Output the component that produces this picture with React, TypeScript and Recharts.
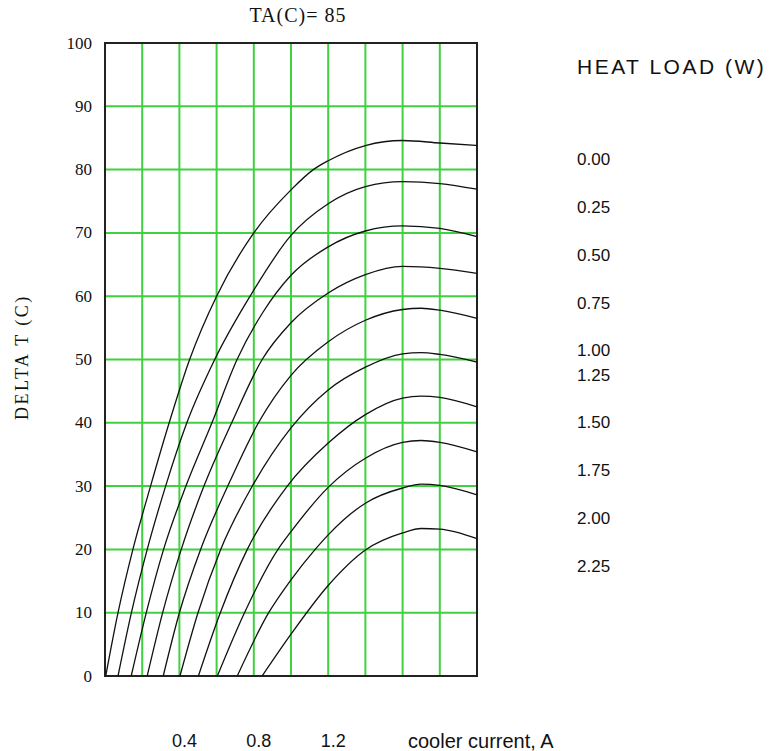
import React from "react";
import { LineChart, Line, XAxis, YAxis, CartesianGrid, ReferenceArea } from "recharts";

// cooler current (A) vs delta T (C), one curve per heat load
const HEAT_LOADS = ["0.00", "0.25", "0.50", "0.75", "1.00", "1.25", "1.50", "1.75", "2.00", "2.25"];

const q000 = [[0.004, 0], [0.07, 10], [0.15, 20], [0.245, 30], [0.345, 40], [0.455, 50], [0.6, 60], [0.8, 70], [1.0, 76.8], [1.12, 80], [1.2, 81.4], [1.4, 83.8], [1.6, 84.6], [1.8, 84.2], [2.0, 83.8]];
const q025 = [[0.07, 0], [0.142, 10], [0.227, 20], [0.326, 30], [0.44, 40], [0.59, 50], [0.78, 60], [1.0, 69.6], [1.2, 74.6], [1.4, 77.3], [1.6, 78.1], [1.8, 77.8], [2.0, 76.9]];
const q050 = [[0.141, 0], [0.222, 10], [0.315, 20], [0.435, 30], [0.575, 40], [0.71, 50], [0.85, 57.5], [1.0, 63.3], [1.2, 67.8], [1.4, 70.3], [1.6, 71.1], [1.8, 70.7], [2.0, 69.4]];
const q075 = [[0.227, 0], [0.31, 10], [0.41, 20], [0.532, 30], [0.681, 40], [0.845, 50], [1.0, 55.8], [1.2, 60.5], [1.4, 63.4], [1.6, 64.7], [1.8, 64.4], [2.0, 63.6]];
const q100 = [[0.313, 0], [0.4, 10], [0.514, 20], [0.66, 30], [0.825, 40], [1.0, 47.5], [1.2, 52.8], [1.4, 56.2], [1.6, 57.9], [1.7, 58.1], [1.8, 57.8], [2.0, 56.5]];
const q125 = [[0.403, 0], [0.5, 10], [0.622, 20], [0.792, 30], [1.0, 39.2], [1.2, 45.2], [1.4, 48.8], [1.6, 50.9], [1.7, 51.1], [1.8, 50.8], [2.0, 49.6]];
const q150 = [[0.502, 0], [0.62, 10], [0.765, 20], [0.98, 30], [1.2, 36.8], [1.4, 41.3], [1.6, 43.9], [1.7, 44.2], [1.8, 44.0], [2.0, 42.5]];
const q175 = [[0.604, 0], [0.75, 10], [0.93, 20], [1.0, 22.8], [1.2, 29.8], [1.4, 34.4], [1.6, 36.9], [1.7, 37.2], [1.8, 36.9], [2.0, 35.4]];
const q200 = [[0.711, 0], [0.88, 10], [1.0, 15.2], [1.13, 20], [1.2, 22.3], [1.4, 27.3], [1.6, 29.7], [1.7, 30.3], [1.8, 30.1], [2.0, 28.6]];
const q225 = [[0.845, 0], [1.0, 6.6], [1.2, 14.3], [1.4, 19.9], [1.6, 22.6], [1.7, 23.3], [1.8, 23.2], [2.0, 21.7]];

const CURVES = [q000, q025, q050, q075, q100, q125, q150, q175, q200, q225];

const X_TICKS = [0, 0.2, 0.4, 0.6, 0.8, 1.0, 1.2, 1.4, 1.6, 1.8, 2.0];
const X_LABELED = [0.4, 0.8, 1.2];
const Y_TICKS = [0, 10, 20, 30, 40, 50, 60, 70, 80, 90, 100];

// legend label centres (page y)
const LEGEND_Y = [160, 208, 256, 304, 351, 376, 423, 471, 519, 567];

const GREEN = "#3fd13f";
const SERIF = "'Liberation Serif', 'DejaVu Serif', serif";
const SANS = "'Liberation Sans', Arial, sans-serif";

const XTick = (props: any) => {
  const { x, payload } = props;
  if (!X_LABELED.includes(payload.value)) return <g />;
  return (
    <text x={x + 5} y={733} textAnchor="middle" dominantBaseline="central" fontFamily={SANS} fontSize={18} fill="#111">
      {payload.value.toFixed(1)}
    </text>
  );
};

const YTick = (props: any) => {
  const { y, payload } = props;
  return (
    <text x={84} y={y} textAnchor="end" dominantBaseline="central" fontFamily={SERIF} fontSize={17} fill="#111">
      {payload.value}
    </text>
  );
};

export default function App() {
  const series = CURVES.map((c) => c.map(([x, y]) => ({ x, y })));

  return (
    <div style={{ position: "relative", width: 763, height: 743 }}>
      <LineChart width={480} height={743} margin={{ top: 35, right: 11, left: 0, bottom: 0 }}>
        <CartesianGrid stroke={GREEN} strokeWidth={2} />
        <XAxis
          type="number"
          dataKey="x"
          domain={[0, 2]}
          ticks={X_TICKS}
          interval={0}
          height={75}
          axisLine={false}
          tickLine={false}
          tick={<XTick />}
        />
        <YAxis
          type="number"
          domain={[0, 100]}
          ticks={Y_TICKS}
          interval={0}
          width={97}
          axisLine={false}
          tickLine={false}
          tick={<YTick />}
        />
        <ReferenceArea x1={0} x2={2} y1={0} y2={100} fill="none" stroke="#222" strokeWidth={2} ifOverflow="visible" />
        {series.map((d, i) => (
          <Line
            key={HEAT_LOADS[i]}
            data={d}
            dataKey="y"
            type="monotone"
            stroke="#111"
            strokeWidth={1.3}
            dot={false}
            activeDot={false}
            isAnimationActive={false}
          />
        ))}
      </LineChart>

      <div style={{ position: "absolute", left: 0, width: 580, top: -4, textAlign: "center", fontFamily: SERIF, fontSize: 20, lineHeight: "22px", letterSpacing: 1, color: "#111" }}>
        TA(C)= 85
      </div>

      <div
        style={{
          position: "absolute",
          left: 14 - 100,
          top: 349 - 11,
          width: 200,
          height: 22,
          lineHeight: "22px",
          textAlign: "center",
          transform: "rotate(-90deg)",
          fontFamily: SERIF,
          fontSize: 18,
          letterSpacing: 2.5,
          color: "#111",
        }}
      >
        DELTA T (C)
      </div>

      <div style={{ position: "absolute", left: 569, top: 67 - 8 - 12, fontFamily: SANS, fontSize: 21, lineHeight: "24px", letterSpacing: 2.5, color: "#111", whiteSpace: "nowrap" }}>
        HEAT LOAD (W)
      </div>

      {HEAT_LOADS.map((h, i) => (
        <div key={h} style={{ position: "absolute", left: 569, top: LEGEND_Y[i] - 8 - 10, fontFamily: SANS, fontSize: 17, lineHeight: "20px", color: "#111" }}>
          {h}
        </div>
      ))}

      <div style={{ position: "absolute", left: 400, top: 741 - 8 - 12, fontFamily: SANS, fontSize: 20, lineHeight: "24px", color: "#111", whiteSpace: "nowrap" }}>
        cooler current, A
      </div>
    </div>
  );
}
